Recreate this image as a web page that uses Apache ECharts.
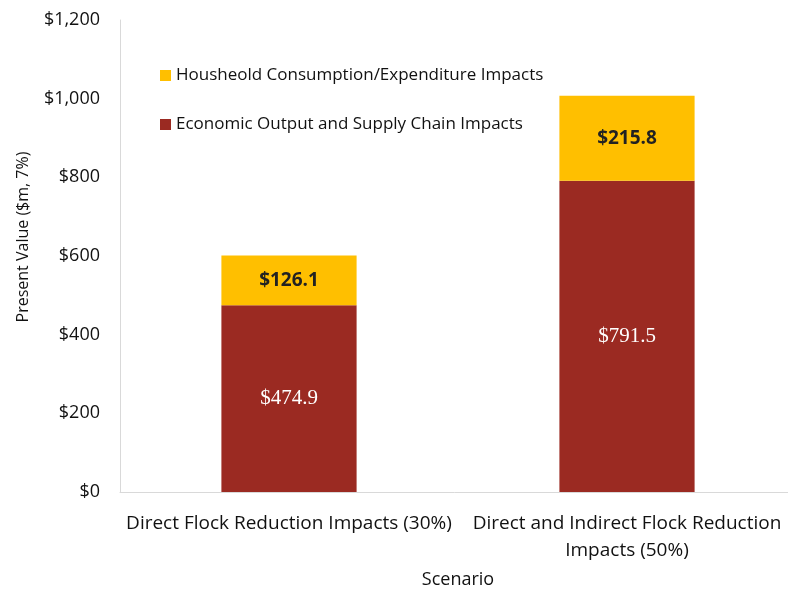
<!DOCTYPE html>
<html>
<head>
<meta charset="utf-8">
<script src="https://cdn.jsdelivr.net/npm/echarts@6/dist/echarts.min.js"></script>
<style>html,body{margin:0;padding:0;background:#fff}#c{width:788px;height:591px}</style>
</head>
<body>
<div id="c"></div>
<script>
const categories = ['Direct Flock Reduction Impacts (30%)', 'Direct and Indirect Flock Reduction\nImpacts (50%)'];
const economicValues = [474.9, 791.5];
const householdValues = [126.1, 215.8];
const seriesNames = ['Housheold Consumption/Expenditure Impacts', 'Economic Output and Supply Chain Impacts'];
const yTicks = [0, 200, 400, 600, 800, 1000, 1200];

const FONT = "'Open Sans', 'Noto Sans', sans-serif";
const chart = echarts.init(document.getElementById('c'));
chart.setOption({
  animation: false,
  backgroundColor: '#fff',
  textStyle: { fontFamily: FONT },
  grid: { left: 120, top: 20, bottom: 99, width: 676, outerBoundsMode: 'none', containLabel: false },
  legend: {
    orient: 'vertical',
    left: 155, top: 62,
    itemWidth: 11, itemHeight: 11, itemGap: 32,
    icon: 'rect',
    data: [seriesNames[0], seriesNames[1]],
    textStyle: { fontSize: 17, color: '#111', fontFamily: FONT }
  },
  xAxis: {
    type: 'category',
    data: categories,
    axisLine: { show: true, lineStyle: { color: '#d9d9d9' } },
    axisTick: { show: false },
    axisLabel: { fontSize: 19, color: '#111', margin: 18, lineHeight: 27, interval: 0, fontFamily: FONT },
    name: 'Scenario', nameLocation: 'middle', nameGap: 79,
    nameTextStyle: { fontSize: 18, color: '#111', fontFamily: FONT }
  },
  yAxis: {
    type: 'value', min: yTicks[0], max: yTicks[yTicks.length - 1], interval: 200,
    axisLine: { show: true, lineStyle: { color: '#d9d9d9' } },
    axisTick: { show: false },
    splitLine: { show: false },
    axisLabel: {
      fontSize: 18, color: '#111', margin: 20, fontFamily: FONT,
      formatter: v => '$' + v.toLocaleString('en-US')
    },
    name: 'Present Value ($m, 7%)', nameLocation: 'middle', nameGap: 89, nameRotate: 90,
    nameTextStyle: { fontSize: 16, color: '#111', fontFamily: FONT, padding: [0, 0, 0, 38] }
  },
  series: [
    {
      name: seriesNames[1], type: 'bar', stack: 't', barWidth: '40%',
      data: economicValues,
      itemStyle: { color: '#9b2a22' },
      label: { show: true, position: 'inside', color: '#fff', fontSize: 21,
        fontFamily: "'Liberation Serif', 'DejaVu Serif', serif",
        formatter: p => '$' + p.value.toFixed(1) }
    },
    {
      name: seriesNames[0], type: 'bar', stack: 't', barWidth: '40%',
      data: householdValues,
      itemStyle: { color: '#ffbf00' },
      label: { show: true, position: 'inside', color: '#222', fontSize: 19, fontWeight: 'bold',
        fontFamily: FONT,
        formatter: p => '$' + p.value.toFixed(1) }
    }
  ]
});
</script>
</body>
</html>
